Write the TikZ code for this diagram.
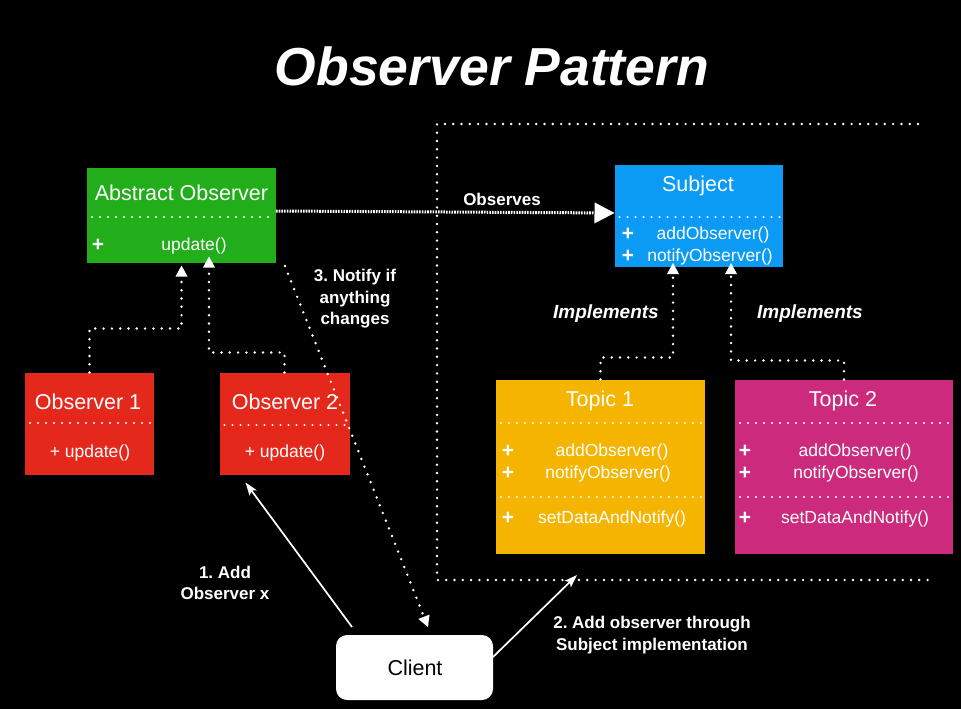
\documentclass[tikz,border=0pt]{standalone}
\usepackage{fontspec}
\setmainfont{Liberation Sans}
\usetikzlibrary{arrows.meta,calc}

\definecolor{obsgreen}{HTML}{22AE1B}
\definecolor{subjblue}{HTML}{0B9BF4}
\definecolor{obsred}{HTML}{E5281C}
\definecolor{topicgold}{HTML}{F5B400}
\definecolor{topicpink}{HTML}{CC2A7C}

\newcommand\bigtitlefont{\fontsize{53.5}{60}\selectfont\bfseries\itshape}
\newcommand\classtitlefont{\fontsize{21.5}{25}\selectfont}
\newcommand\methodfont{\fontsize{17.5}{21}\selectfont}
\newcommand\plusfont{\fontsize{21}{21}\selectfont\bfseries}
\newcommand\notefont{\fontsize{17}{21.5}\selectfont\bfseries}
\newcommand\implfont{\fontsize{19}{23}\selectfont\bfseries\itshape}

\tikzset{
  classbox/.style={draw=none, inner sep=0pt, outer sep=0pt},
  txt/.style={text=white, inner sep=0pt, anchor=base},
  ctitle/.style={txt, font=\classtitlefont},
  meth/.style={txt, font=\methodfont},
  plus/.style={txt, font=\plusfont},
  note/.style={text=white, inner sep=0pt, align=center, font=\notefont},
  impl/.style={txt, font=\implfont},
  dotline/.style={white, line width=2.7pt, line cap=round, dash pattern=on 0pt off 8.3pt},
  sepdots/.style={white, line width=2.4pt, line cap=round, dash pattern=on 0pt off 8pt},
  dotarrow/.style={dotline, -{Triangle[length=11pt,width=12pt,line width=0pt]}},
  solidarrow/.style={white, line width=1.7pt, -{Stealth[length=13pt,width=9pt,inset=3pt]}},
  obsarrow/.style={white, line width=3pt, dash pattern=on 1.6pt off 1.1pt,
                   -{Triangle[length=20pt,width=21pt,line width=0pt]}},
}

\begin{document}
\begin{tikzpicture}[x=1pt, y=-1pt]
  % canvas
  \fill[black] (0,0) rectangle (961,709);
  \useasboundingbox (0,0) rectangle (961,709);

  % heading
  \node[txt, font=\bigtitlefont] (heading) at (492,85) {Observer Pattern};

  % subject side boundary
  \draw[dotline] (918,124) -- (437,124) -- (437,580) -- (930,580);

  % ---------- class boxes ----------
  \node[classbox, fill=obsgreen, minimum width=189pt, minimum height=95pt] (absobs) at (181.5,215) {};
  \node[classbox, fill=subjblue, minimum width=168pt, minimum height=102pt] (subject) at (698.5,216) {};
  \node[classbox, fill=obsred, minimum width=129pt, minimum height=102pt] (obs1) at (89.5,423.5) {};
  \node[classbox, fill=obsred, minimum width=130pt, minimum height=102pt] (obs2) at (284.5,423.5) {};
  \node[classbox, fill=topicgold, minimum width=209pt, minimum height=174pt] (topic1) at (600.5,466.5) {};
  \node[classbox, fill=topicpink, minimum width=218pt, minimum height=174pt] (topic2) at (844,466.5) {};
  \node[classbox, fill=white, rounded corners=11pt, minimum width=157pt, minimum height=65pt] (client) at (414.5,667.5) {};

  % Abstract Observer
  \node[ctitle] (absobsname) at (181.5,200) {Abstract Observer};
  \draw[sepdots] ([xshift=5pt]absobs.west |- 0,217) -- ([xshift=-3pt]absobs.east |- 0,217);
  \node[plus] (absobsplus) at (98,251) {+};
  \node[meth] (absobsupd) at (194,250) {update()};

  % Subject
  \node[ctitle] (subjname) at (698,191) {Subject};
  \draw[sepdots] ([xshift=5pt]subject.west |- 0,217) -- ([xshift=-3pt]subject.east |- 0,217);
  \node[plus] (subjplusa) at (628,240) {+};
  \node[meth] (subjadd) at (713,239) {addObserver()};
  \node[plus] (subjplusb) at (628,262) {+};
  \node[meth] (subjnotify) at (710,261) {notifyObserver()};

  % Observer 1
  \node[ctitle] (obs1name) at (88,409) {Observer 1};
  \draw[sepdots] ([xshift=5pt]obs1.west |- 0,423) -- ([xshift=-3pt]obs1.east |- 0,423);
  \node[meth] (obs1upd) at (90,457) {+ update()};

  % Observer 2
  \node[ctitle] (obs2name) at (285,409) {Observer 2};
  \draw[sepdots] ([xshift=5pt]obs2.west |- 0,425) -- ([xshift=-3pt]obs2.east |- 0,425);
  \node[meth] (obs2upd) at (285,457) {+ update()};

  % Topic 1
  \node[ctitle] (topic1name) at (600,406) {Topic 1};
  \draw[sepdots] ([xshift=5pt]topic1.west |- 0,423) -- ([xshift=-3pt]topic1.east |- 0,423);
  \node[plus] (t1plusa) at (508,457) {+};
  \node[meth] (t1add) at (612,456) {addObserver()};
  \node[plus] (t1plusb) at (508,479) {+};
  \node[meth] (t1notify) at (608,478) {notifyObserver()};
  \draw[sepdots] ([xshift=5pt]topic1.west |- 0,497) -- ([xshift=-3pt]topic1.east |- 0,497);
  \node[plus] (t1plusc) at (508,524) {+};
  \node[meth] (t1set) at (612,523) {setDataAndNotify()};

  % Topic 2
  \node[ctitle] (topic2name) at (843,406) {Topic 2};
  \draw[sepdots] ([xshift=5pt]topic2.west |- 0,423) -- ([xshift=-3pt]topic2.east |- 0,423);
  \node[plus] (t2plusa) at (745,457) {+};
  \node[meth] (t2add) at (855,456) {addObserver()};
  \node[plus] (t2plusb) at (745,479) {+};
  \node[meth] (t2notify) at (856,478) {notifyObserver()};
  \draw[sepdots] ([xshift=5pt]topic2.west |- 0,497) -- ([xshift=-3pt]topic2.east |- 0,497);
  \node[plus] (t2plusc) at (745,524) {+};
  \node[meth] (t2set) at (855,523) {setDataAndNotify()};

  % Client
  \node[txt, text=black, font=\fontsize{21.5}{25}\selectfont] (clientname) at (415,675.5) {Client};

  % ---------- connectors ----------
  % observers realise the abstract observer
  \draw[dotarrow] (obs1.north) -- ++(0,-44) -| ([yshift=-3pt]absobs.south);
  \draw[dotarrow] (obs2.north) -- ++(0,-20) -| ([xshift=27.5pt,yshift=6pt]absobs.south);

  % topics implement the subject
  \draw[dotarrow] (topic1.north) -- ++(0,-22) -| ([xshift=-25.5pt,yshift=4pt]subject.south);
  \draw[dotarrow] (topic2.north) -- ++(0,-19) -| ([xshift=32.5pt,yshift=4pt]subject.south);
  \node[impl] (impl1) at (606,318) {Implements};
  \node[impl] (impl2) at (810,318) {Implements};

  % observes relation
  \draw[obsarrow] ([yshift=4pt]absobs.east) -- ([yshift=3pt]subject.west);
  \node[txt, font=\notefont] (observeslbl) at (502,205) {Observes};

  % notification towards the client
  \coordinate (notifystart) at ($(absobs.south east)+(9,3.5)$);
  \draw[dotarrow] (notifystart) -- ($(client.north)+(13.5,-8)$);
  \node[note] (notifylbl) at (355,299) {3.\ Notify if\\anything\\changes};

  % client actions
  \draw[solidarrow] ($(client.north west)+(16,-8)$) -- ($(obs2.south west)+(26,8)$);
  \node[note] (step1lbl) at (225,583) {1.\ Add\\Observer x};

  \coordinate (viasubject) at (577,575);
  \draw[solidarrow] ($(client.east)+(0,-10.5)$) -- (viasubject);
  \node[note] (step2lbl) at (652,635) {2.\ Add observer through\\Subject implementation};
\end{tikzpicture}
\end{document}
